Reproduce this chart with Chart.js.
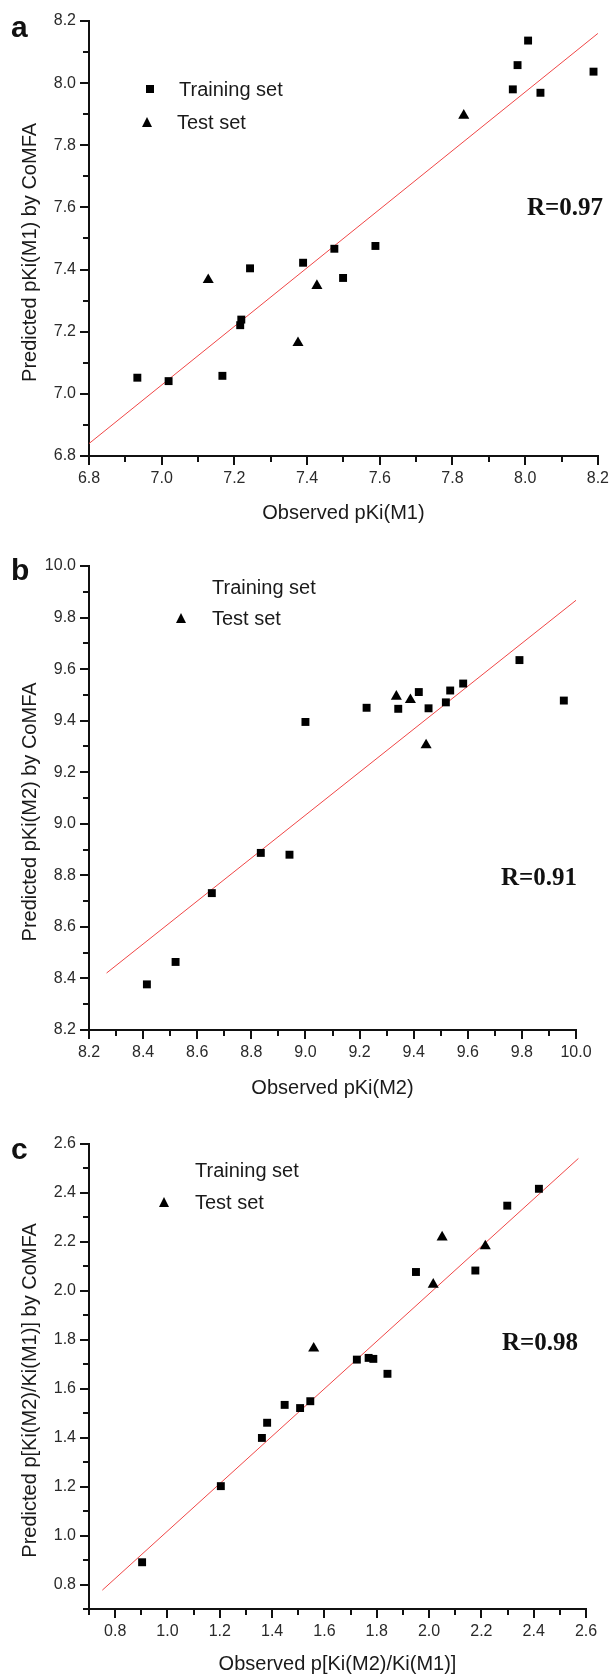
<!DOCTYPE html>
<html>
<head>
<meta charset="utf-8">
<script src="https://cdn.jsdelivr.net/npm/chart.js@4.4.0/dist/chart.umd.min.js"></script>
<style>
  body { margin: 0; background: #fff; width: 613px; height: 1678px; position: relative; overflow: hidden;
         font-family: "Liberation Sans", Arial, sans-serif; }
  canvas { position: absolute; left: 0; }
  .txt { position: absolute; white-space: nowrap; line-height: 1; color: #111; }
  .leg { font-size: 20px; transform: translateY(-50%); color: #1a1a1a; }
  .r { font-family: "Liberation Serif", "Times New Roman", serif; font-weight: bold; font-size: 25px; transform: translateY(-50%); }
  .letter { font-weight: bold; font-size: 30px; }
  .sq { position: absolute; width: 8px; height: 8px; background: #000; transform: translate(-50%, -50%); }
  .tri { position: absolute; width: 0; height: 0; border-left: 5.5px solid transparent; border-right: 5.5px solid transparent;
         border-bottom: 10px solid #000; transform: translate(-50%, -50%); }
</style>
</head>
<body>
<canvas id="plotA" width="613" height="540" style="top:0px"></canvas>
<canvas id="plotB" width="613" height="570" style="top:540px"></canvas>
<canvas id="plotC" width="613" height="568" style="top:1110px"></canvas>

<!-- panel letters -->
<div class="txt letter" style="left:11px;top:12px">a</div>
<div class="txt letter" style="left:11px;top:555px">b</div>
<div class="txt letter" style="left:11px;top:1134px">c</div>

<!-- legends -->
<div class="sq" style="left:150px;top:89px"></div>
<div class="txt leg" style="left:179px;top:89px">Training set</div>
<div class="tri" style="left:147px;top:122px"></div>
<div class="txt leg" style="left:177px;top:122px">Test set</div>

<div class="txt leg" style="left:212px;top:587px">Training set</div>
<div class="tri" style="left:181px;top:618px"></div>
<div class="txt leg" style="left:212px;top:618px">Test set</div>

<div class="txt leg" style="left:195px;top:1170px">Training set</div>
<div class="tri" style="left:164px;top:1202px"></div>
<div class="txt leg" style="left:195px;top:1202px">Test set</div>

<!-- correlation -->
<div class="txt r" style="left:527px;top:206px">R=0.97</div>
<div class="txt r" style="left:501px;top:876px">R=0.91</div>
<div class="txt r" style="left:502px;top:1341px">R=0.98</div>

<script>
'use strict';

// ---- panel a : pKi(M1) ----
const aTrainX = [6.933, 7.019, 7.167, 7.216, 7.219, 7.243, 7.389, 7.475, 7.499, 7.588, 7.966, 7.979, 8.008, 8.042, 8.188];
const aTrainY = [7.052, 7.041, 7.058, 7.221, 7.239, 7.404, 7.422, 7.467, 7.373, 7.476, 7.980, 8.058, 8.137, 7.969, 8.037];
const aTestX = [7.128, 7.375, 7.427, 7.831];
const aTestY = [7.367, 7.164, 7.348, 7.896];
const aFitX = [6.8, 8.2];
const aFitY = [6.84, 8.16];

// ---- panel b : pKi(M2) ----
const bTrainX = [8.414, 8.520, 8.654, 8.835, 8.941, 9.000, 9.226, 9.343, 9.419, 9.455, 9.519, 9.535, 9.583, 9.791, 9.955];
const bTrainY = [8.377, 8.464, 8.731, 8.887, 8.880, 9.395, 9.450, 9.446, 9.511, 9.448, 9.471, 9.517, 9.544, 9.635, 9.478];
const bTestX = [9.336, 9.388, 9.446];
const bTestY = [9.494, 9.481, 9.305];
const bFitX = [8.265, 10.0];
const bFitY = [8.421, 9.867];

// ---- panel c : p[Ki(M2)/Ki(M1)] ----
const cTrainX = [0.903, 1.204, 1.361, 1.381, 1.448, 1.507, 1.546, 1.724, 1.769, 1.787, 1.841, 1.950, 2.177, 2.299, 2.420];
const cTrainY = [0.891, 1.202, 1.399, 1.461, 1.534, 1.521, 1.549, 1.719, 1.726, 1.722, 1.661, 2.077, 2.083, 2.348, 2.417];
const cTestX = [1.559, 2.016, 2.050, 2.215];
const cTestY = [1.765, 2.026, 2.219, 2.183];
const cFitX = [0.751, 2.571];
const cFitY = [0.777, 2.541];

// axis ranges and titles
const aRange = {x: [6.8, 8.2], y: [6.8, 8.2]};
const bRange = {x: [8.2, 10.0], y: [8.2, 10.0]};
const cRange = {x: [0.7, 2.6], y: [0.7, 2.6]};
const aTitles = ['Observed pKi(M1)', 'Predicted pKi(M1) by CoMFA'];
const bTitles = ['Observed pKi(M2)', 'Predicted pKi(M2) by CoMFA'];
const cTitles = ['Observed p[Ki(M2)/Ki(M1)]', 'Predicted p[Ki(M2)/Ki(M1)] by CoMFA'];

const FONT = '"Liberation Sans", Arial, sans-serif';
const fitRed = 'rgb(240,70,70)';
const TICK_LEN = 9;

const zip = (xs, ys) => xs.map((x, i) => ({x: x, y: ys[i]}));
const isMajor = v => Math.round(v * 10) % 2 === 0;

function makeAxis(range, title, isX, boxSize, titlePad) {
  return {
    type: 'linear',
    min: range[0],
    max: range[1],
    border: {color: '#111', width: 2},
    grid: {
      drawOnChartArea: false, color: '#111', lineWidth: 2, tickLength: TICK_LEN,
      // minor ticks: only the part next to the axis is drawn (bottom ticks run axis->out, left ticks out->axis)
      tickBorderDash: c => {
        if (!c.tick || isMajor(c.tick.value)) return [];
        return isX ? [5, 100] : [0, 3, 5, 100];
      }
    },
    ticks: {
      stepSize: 0.1, autoSkip: false, maxRotation: 0, padding: 4,
      color: '#2a2a2a', font: {size: 16, family: FONT},
      // only every second tenth gets a label, the others are minor ticks
      callback: v => (isMajor(v) ? v.toFixed(1) : '')
    },
    title: {display: true, text: title, color: '#1a1a1a', font: {size: 20, family: FONT}, padding: titlePad},
    afterFit: s => { if (isX) s.height = boxSize; else s.width = boxSize; }
  };
}

function buildPanel(id, p) {
  const ctx = document.getElementById(id).getContext('2d');
  return new Chart(ctx, {
    type: 'scatter',
    data: {
      datasets: [
        {label: 'Training set', data: zip(p.trainX, p.trainY), pointStyle: 'rect', pointRadius: 5.6,
         backgroundColor: '#000', borderColor: '#000', borderWidth: 0},
        {label: 'Test set', data: zip(p.testX, p.testY), pointStyle: 'triangle', pointRadius: 6.4,
         backgroundColor: '#000', borderColor: '#000', borderWidth: 0},
        {type: 'line', label: 'fit', data: zip(p.fitX, p.fitY), borderColor: fitRed, borderWidth: 1,
         pointRadius: 0, fill: false}
      ]
    },
    options: {
      responsive: false,
      animation: false,
      layout: {padding: p.pad},
      plugins: {legend: {display: false}, tooltip: {enabled: false}},
      scales: {
        x: makeAxis(p.range.x, p.titles[0], true, p.xBox, {top: 0, bottom: p.xTitlePad}),
        // trailing spaces push the rotated title a little lower, as in the original figure
        y: makeAxis(p.range.y, p.titles[1] + '     ', false, 89, {top: 18, bottom: 0})
      }
    }
  });
}

buildPanel('plotA', {trainX: aTrainX, trainY: aTrainY, testX: aTestX, testY: aTestY, fitX: aFitX, fitY: aFitY,
  range: aRange, titles: aTitles, pad: {top: 21, right: 14, left: 0, bottom: 0}, xBox: 84, xTitlePad: 15});
buildPanel('plotB', {trainX: bTrainX, trainY: bTrainY, testX: bTestX, testY: bTestY, fitX: bFitX, fitY: bFitY,
  range: bRange, titles: bTitles, pad: {top: 26, right: 37, left: 0, bottom: 0}, xBox: 80, xTitlePad: 10});
buildPanel('plotC', {trainX: cTrainX, trainY: cTrainY, testX: cTestX, testY: cTestY, fitX: cFitX, fitY: cFitY,
  range: cRange, titles: cTitles, pad: {top: 34, right: 27, left: 0, bottom: 0}, xBox: 69, xTitlePad: 2});
</script>
</body>
</html>
